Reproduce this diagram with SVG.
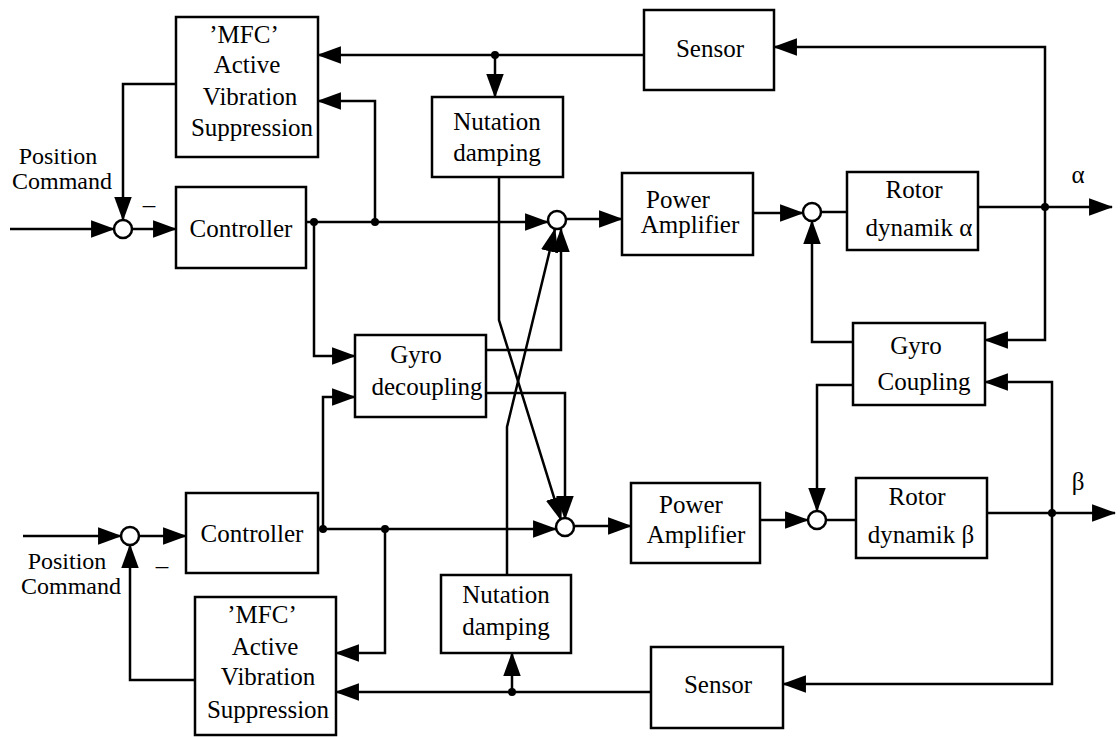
<svg xmlns="http://www.w3.org/2000/svg" width="1120" height="737" viewBox="0 0 1120 737" font-family="'Liberation Serif', 'Times New Roman', serif">
<style>
.box{fill:#fff;stroke:#000;stroke-width:2.5}
.sum{fill:#fff;stroke:#000;stroke-width:2.5}
.ln{fill:none;stroke:#000;stroke-width:2.5;stroke-linejoin:miter}
.ar{marker-end:url(#ah)}
.dot{fill:#000}
text{font-family:'Liberation Serif','Times New Roman',serif;font-size:25px;fill:#000;text-anchor:middle}
.pc{font-size:24px}
</style>
<defs>
<marker id="ah" markerUnits="userSpaceOnUse" markerWidth="24" markerHeight="18" viewBox="0 0 22 16" refX="21" refY="8" orient="auto">
<path d="M0,0 L22,8 L0,16 z" fill="#000"/>
</marker>
</defs>
<rect width="1120" height="737" fill="#fff"/>

<g id="connectors">
<path class="ln ar" d="M10,229 H114"/>
<path class="ln ar" d="M132,229 H176"/>
<path class="ln ar" d="M176,84 H123 V220"/>
<path class="ln ar" d="M306,222 H548"/>
<path class="ln ar" d="M375,222 V101 H318"/>
<path class="ln ar" d="M314,222 V356 H355"/>
<path class="ln ar" d="M644,55 H318"/>
<path class="ln ar" d="M495,55 V97"/>
<path class="ln ar" d="M1045,207 V47 H774"/>
<path class="ln ar" d="M566,219 H622"/>
<path class="ln ar" d="M753,213 H803"/>
<path class="ln" d="M821,212 H847"/>
<path class="ln ar" d="M978,207 H1112"/>
<path class="ln ar" d="M1045,207 V340 H985"/>
<path class="ln ar" d="M853,342 H812 V221"/>
<path class="ln ar" d="M853,385 H817 V511"/>
<path class="ln ar" d="M23,536 H121"/>
<path class="ln ar" d="M139,536 H186"/>
<path class="ln ar" d="M195,680 H130 V545"/>
<path class="ln ar" d="M318,529 H556"/>
<path class="ln ar" d="M323,529 V397 H355"/>
<path class="ln ar" d="M385,529 V653 H336"/>
<path class="ln ar" d="M574,526 H631"/>
<path class="ln ar" d="M760,520 H808"/>
<path class="ln" d="M826,520 H856"/>
<path class="ln ar" d="M987,513 H1115"/>
<path class="ln ar" d="M1052,513 V382 H985"/>
<path class="ln ar" d="M1052,513 V684 H783"/>
<path class="ln ar" d="M651,692 H336"/>
<path class="ln ar" d="M512,692 V653"/>
<path class="ln ar" d="M486,350 H561 V229"/>
<path class="ln ar" d="M486,393 H565 V519"/>
<path class="ln ar" d="M499,177 V320 L561,520"/>
<path class="ln ar" d="M507,575 V427 L555,229"/>
<circle class="dot" cx="314" cy="222" r="4"/>
<circle class="dot" cx="375" cy="222" r="4"/>
<circle class="dot" cx="495" cy="55" r="4"/>
<circle class="dot" cx="1045" cy="207" r="4"/>
<circle class="dot" cx="323" cy="529" r="4"/>
<circle class="dot" cx="385" cy="529" r="4"/>
<circle class="dot" cx="1052" cy="513" r="4"/>
<circle class="dot" cx="512" cy="692" r="4"/>
</g>

<g id="sum1"><circle class="sum" cx="123" cy="229" r="9"/></g>
<g id="sum2"><circle class="sum" cx="557" cy="220" r="9"/></g>
<g id="sum3"><circle class="sum" cx="812" cy="212" r="9"/></g>
<g id="sum4"><circle class="sum" cx="817" cy="520" r="9"/></g>
<g id="sum5"><circle class="sum" cx="130" cy="536" r="9"/></g>
<g id="sum6"><circle class="sum" cx="565" cy="527" r="9"/></g>

<g id="mfc-top">
<rect class="box" x="176" y="17" width="142" height="140"/>
<text x="244" y="43">’MFC’</text>
<text x="247" y="73">Active</text>
<text x="250" y="105">Vibration</text>
<text x="252" y="136">Suppression</text>
</g>
<g id="controller-top">
<rect class="box" x="176" y="187" width="130" height="81"/>
<text x="241" y="237">Controller</text>
</g>
<g id="nutation-top">
<rect class="box" x="432" y="97" width="131" height="80"/>
<text x="497" y="130">Nutation</text>
<text x="497" y="161">damping</text>
</g>
<g id="sensor-top">
<rect class="box" x="644" y="10" width="130" height="80"/>
<text x="710" y="57">Sensor</text>
</g>
<g id="power-top">
<rect class="box" x="622" y="173" width="131" height="82"/>
<text x="678" y="208">Power</text>
<text x="690" y="233">Amplifier</text>
</g>
<g id="rotor-alpha">
<rect class="box" x="847" y="172" width="131" height="78"/>
<text x="914" y="198">Rotor</text>
<text x="919" y="236">dynamik α</text>
</g>
<g id="gyro-decoupling">
<rect class="box" x="355" y="335" width="131" height="82"/>
<text x="416" y="363">Gyro</text>
<text x="427" y="395">decoupling</text>
</g>
<g id="gyro-coupling">
<rect class="box" x="853" y="323" width="132" height="82"/>
<text x="916" y="354">Gyro</text>
<text x="924" y="390">Coupling</text>
</g>
<g id="controller-bottom">
<rect class="box" x="186" y="493" width="132" height="80"/>
<text x="252" y="542">Controller</text>
</g>
<g id="power-bottom">
<rect class="box" x="631" y="483" width="129" height="80"/>
<text x="691" y="513">Power</text>
<text x="696" y="543">Amplifier</text>
</g>
<g id="rotor-beta">
<rect class="box" x="856" y="478" width="131" height="80"/>
<text x="917" y="505">Rotor</text>
<text x="921" y="543">dynamik β</text>
</g>
<g id="mfc-bottom">
<rect class="box" x="195" y="597" width="141" height="138"/>
<text x="262" y="623">’MFC’</text>
<text x="265" y="655">Active</text>
<text x="268" y="685">Vibration</text>
<text x="268" y="718">Suppression</text>
</g>
<g id="nutation-bottom">
<rect class="box" x="441" y="575" width="130" height="78"/>
<text x="506" y="603">Nutation</text>
<text x="506" y="635">damping</text>
</g>
<g id="sensor-bottom">
<rect class="box" x="651" y="647" width="132" height="81"/>
<text x="718" y="693">Sensor</text>
</g>

<g id="labels">
<text class="pc" x="58" y="164">Position</text>
<text class="pc" x="62" y="189">Command</text>
<text x="149" y="213">–</text>
<text class="pc" x="67" y="569">Position</text>
<text class="pc" x="71" y="594">Command</text>
<text x="162" y="574">–</text>
<text x="1078" y="183">α</text>
<text x="1078" y="490">β</text>
</g>
</svg>
